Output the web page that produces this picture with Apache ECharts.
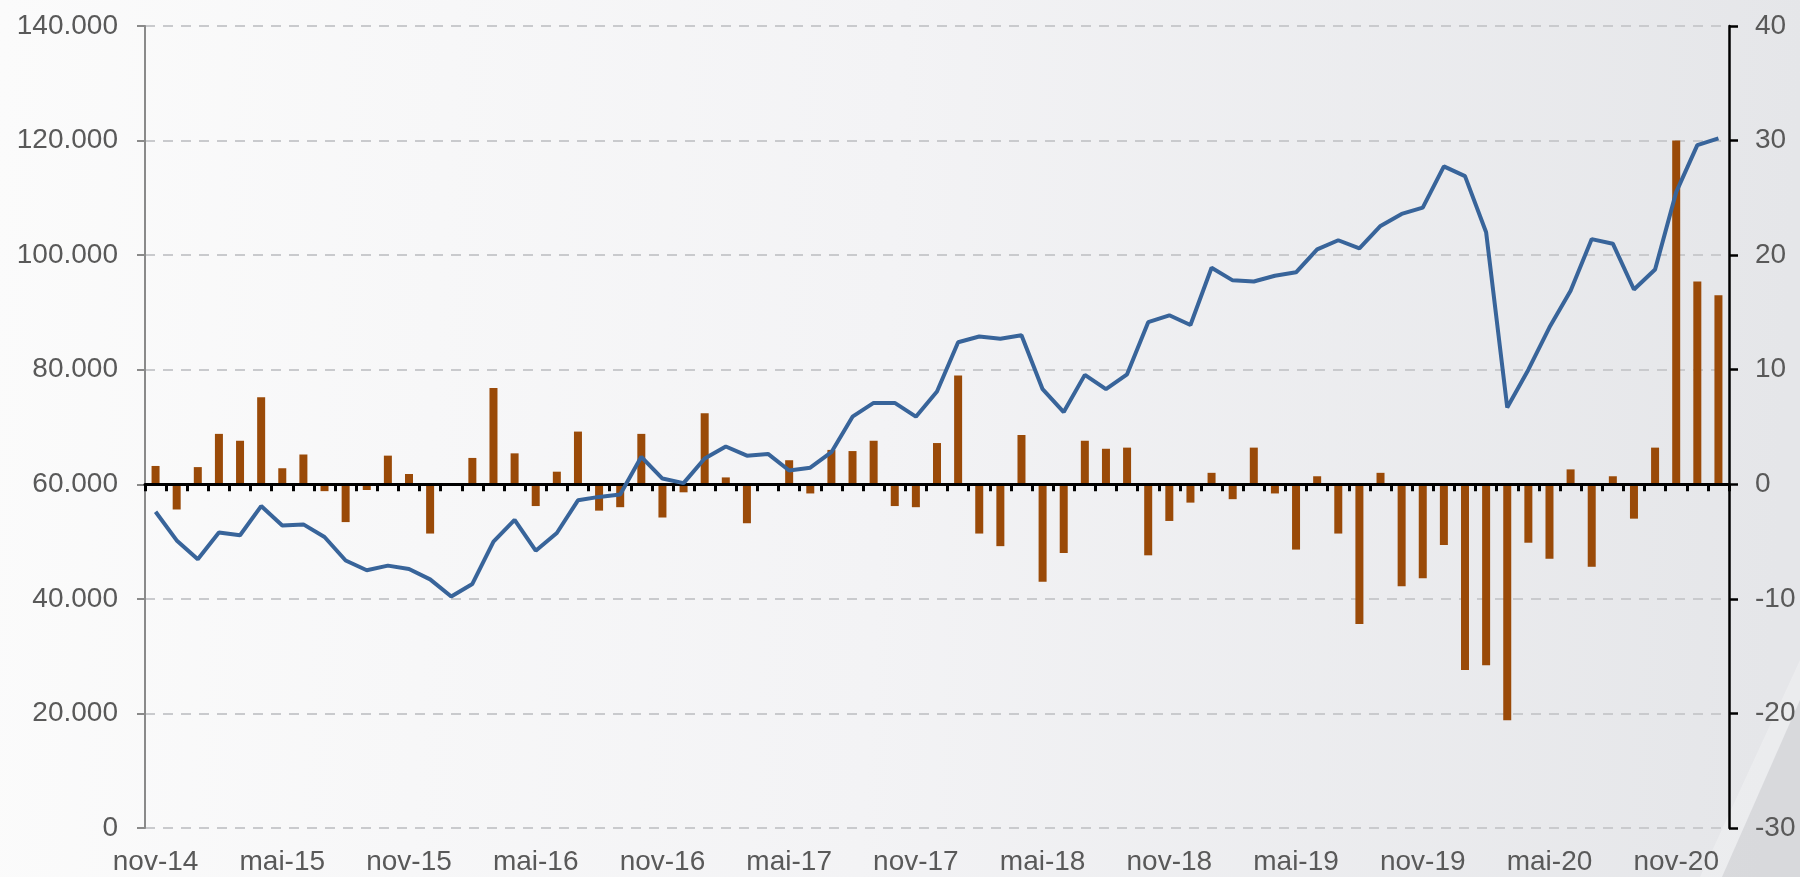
<!DOCTYPE html>
<html>
<head>
<meta charset="utf-8">
<script src="https://cdn.jsdelivr.net/npm/echarts@6/dist/echarts.min.js"></script>
<style>
    html, body { margin: 0; padding: 0; }
    #myChart { width: 1800px; height: 877px; }
</style>
</head>
<body>
<div id="myChart"></div>
<script>
    var categories = [
        'nov-14', 'dez-14',
        'jan-15', 'fev-15', 'mar-15', 'abr-15', 'mai-15', 'jun-15', 'jul-15', 'ago-15', 'set-15', 'out-15', 'nov-15', 'dez-15',
        'jan-16', 'fev-16', 'mar-16', 'abr-16', 'mai-16', 'jun-16', 'jul-16', 'ago-16', 'set-16', 'out-16', 'nov-16', 'dez-16',
        'jan-17', 'fev-17', 'mar-17', 'abr-17', 'mai-17', 'jun-17', 'jul-17', 'ago-17', 'set-17', 'out-17', 'nov-17', 'dez-17',
        'jan-18', 'fev-18', 'mar-18', 'abr-18', 'mai-18', 'jun-18', 'jul-18', 'ago-18', 'set-18', 'out-18', 'nov-18', 'dez-18',
        'jan-19', 'fev-19', 'mar-19', 'abr-19', 'mai-19', 'jun-19', 'jul-19', 'ago-19', 'set-19', 'out-19', 'nov-19', 'dez-19',
        'jan-20', 'fev-20', 'mar-20', 'abr-20', 'mai-20', 'jun-20', 'jul-20', 'ago-20', 'set-20', 'out-20', 'nov-20', 'dez-20',
        'jan-21'
    ];

    // linha (eixo esquerdo)
    var lineValues = [
        55200, 50200, 46900, 51600, 51100, 56200, 52800, 53000, 50800, 46700,
        45000, 45800, 45200, 43400, 40400, 42600, 50000, 53800, 48400, 51500,
        57200, 57800, 58200, 64800, 61000, 60200, 64500, 66600, 65000, 65300,
        62400, 62900, 65600, 71800, 74200, 74200, 71800, 76200, 84800, 85800,
        85400, 86000, 76600, 72600, 79100, 76600, 79200, 88300, 89500, 87800,
        97800, 95600, 95400, 96400, 97000, 101000, 102600, 101200, 105100, 107200,
        108300, 115500, 113800, 104000, 73400, 80000, 87400, 93800, 102800, 102000,
        94000, 97500, 111000, 119200, 120400
    ];

    // barras (eixo direito)
    var barValues = [
        1.6, -2.2, 1.5, 4.4, 3.8, 7.6, 1.4, 2.6, -0.6, -3.3,
        -0.5, 2.5, 0.9, -4.3, -0.1, 2.3, 8.4, 2.7, -1.9, 1.1,
        4.6, -2.3, -2.0, 4.4, -2.9, -0.7, 6.2, 0.6, -3.4, 0.1,
        2.1, -0.8, 3.0, 2.9, 3.8, -1.9, -2.0, 3.6, 9.5, -4.3,
        -5.4, 4.3, -8.5, -6.0, 3.8, 3.1, 3.2, -6.2, -3.2, -1.6,
        1.0, -1.3, 3.2, -0.8, -5.7, 0.7, -4.3, -12.2, 1.0, -8.9,
        -8.2, -5.3, -16.2, -15.8, -20.6, -5.1, -6.5, 1.3, -7.2, 0.7,
        -3.0, 3.2, 30.0, 17.7, 16.5
    ];

    var leftTicks = { min: 0, max: 140000, interval: 20000 };
    var rightTicks = { min: -30, max: 40, interval: 10 };

    var fontFamily = '"Liberation Sans", Arial, sans-serif';
    var labelColor = '#595959';

    function milhar (v) {
        if (v === 0) return '0';
        return String(v / 1000) + '.000';
    }

    var myChart = echarts.init(document.getElementById('myChart'));
    myChart.setOption({
        animation: false,
        backgroundColor: {
            type: 'linear', x: 0, y: 0, x2: 1, y2: 0.1,
            colorStops: [
                { offset: 0, color: '#fbfbfb' },
                { offset: 0.5, color: '#f3f3f5' },
                { offset: 1, color: '#e5e6e9' }
            ]
        },
        graphic: [
            {
                type: 'polygon',
                silent: true,
                z: -10,
                shape: { points: [[1700, 877], [1800, 660], [1800, 877]] },
                style: { fill: 'rgba(255,255,255,0.25)' }
            },
            {
                type: 'polygon',
                silent: true,
                z: -10,
                shape: { points: [[1722, 877], [1800, 700], [1800, 877]] },
                style: { fill: 'rgba(150,150,158,0.22)' }
            }
        ],
        grid: {
            left: 145,
            right: 71,
            top: 26,
            bottom: 49,
            containLabel: false,
            outerBoundsMode: 'none'
        },
        xAxis: [
            {
                type: 'category',
                data: categories,
                boundaryGap: true,
                position: 'bottom',
                axisLine: { show: false, onZero: false },
                axisTick: { show: false },
                splitLine: { show: false },
                axisLabel: {
                    interval: 5,
                    margin: 20,
                    color: labelColor,
                    fontSize: 28,
                    fontFamily: fontFamily
                }
            },
            {
                type: 'category',
                data: categories,
                boundaryGap: true,
                position: 'bottom',
                z: 3,
                axisLine: {
                    show: true,
                    onZero: true,
                    onZeroAxisIndex: 1,
                    lineStyle: { color: '#000', width: 3 }
                },
                axisTick: {
                    show: true,
                    interval: 0,
                    length: 7,
                    lineStyle: { color: '#000', width: 3 }
                },
                axisLabel: { show: false },
                splitLine: { show: false }
            }
        ],
        yAxis: [
            {
                type: 'value',
                position: 'left',
                min: leftTicks.min,
                max: leftTicks.max,
                interval: leftTicks.interval,
                axisLine: { show: true, lineStyle: { color: '#8a8a8a', width: 2 } },
                axisTick: { show: true, length: 8, lineStyle: { color: '#8a8a8a', width: 2 } },
                axisLabel: {
                    margin: 27,
                    color: labelColor,
                    fontSize: 28,
                    fontFamily: fontFamily,
                    formatter: milhar
                },
                splitLine: {
                    show: true,
                    lineStyle: { color: '#c9cacd', width: 2, type: [10, 8] }
                }
            },
            {
                type: 'value',
                position: 'right',
                min: rightTicks.min,
                max: rightTicks.max,
                interval: rightTicks.interval,
                axisLine: { show: true, lineStyle: { color: '#000', width: 2.5 } },
                axisTick: { show: true, length: 9, lineStyle: { color: '#000', width: 2.5 } },
                axisLabel: {
                    margin: 26,
                    color: labelColor,
                    fontSize: 28,
                    fontFamily: fontFamily
                },
                splitLine: { show: false }
            }
        ],
        series: [
            {
                type: 'bar',
                xAxisIndex: 0,
                yAxisIndex: 1,
                data: barValues,
                barWidth: 8,
                z: 2,
                itemStyle: { color: '#9a4a08' }
            },
            {
                type: 'line',
                xAxisIndex: 0,
                yAxisIndex: 0,
                data: lineValues,
                symbol: 'none',
                z: 4,
                lineStyle: { color: '#38649a', width: 4 },
                itemStyle: { color: '#38649a' }
            }
        ]
    });
</script>
</body>
</html>
